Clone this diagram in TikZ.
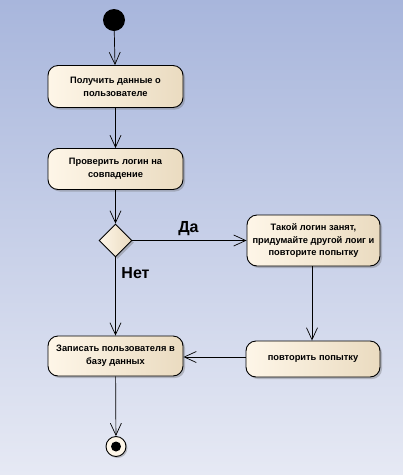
\documentclass[tikz,border=0pt]{standalone}
\usepackage{fontspec}
\setmainfont{Liberation Sans}
\usetikzlibrary{arrows.meta,shapes.geometric,shadows}
\begin{document}
\begin{tikzpicture}[x=1pt,y=-1pt,
  act/.style={draw=black,line width=0.9pt,rounded corners=10pt,
    left color=boxL,right color=boxR,
    drop shadow={shadow xshift=2pt,shadow yshift=-2pt,opacity=0.35,fill=black!60},
    minimum width=135pt,align=center,
    font=\fontsize{9.3}{12.7}\selectfont\bfseries,inner sep=1pt},
  flow/.style={draw=black,line width=0.7pt,-{Straight Barb[length=12pt,width=11pt,line width=0.7pt]}},
  lbl/.style={font=\fontsize{16}{18}\selectfont\bfseries,inner sep=0pt}
]
\definecolor{bgtop}{HTML}{A8B6DC}
\definecolor{bgbot}{HTML}{E6E9F4}
\definecolor{boxL}{HTML}{FEF6E8}
\definecolor{boxR}{HTML}{EADBC0}
\fill[top color=bgtop,bottom color=bgbot] (0,0) rectangle (403,475);
\useasboundingbox (0,0) rectangle (403,475);

\node[circle,fill=black,minimum size=22pt,inner sep=0pt] (start) at (114,20) {};
\node[act,minimum height=42pt] (a1) at (115.5,86.5) {Получить данные о\\пользователе};
\node[act,minimum height=41pt] (a2) at (115.5,169) {Проверить логин на\\совпадение};
\node[diamond,draw=black,line width=0.9pt,left color=boxL,right color=boxR,
  minimum width=33pt,minimum height=33pt,inner sep=0pt,
  drop shadow={shadow xshift=2pt,shadow yshift=-2pt,opacity=0.35,fill=black!60}] (d) at (115.5,240.5) {};
\node[act,minimum width=133pt,minimum height=51pt] (a3) at (313.5,240.5) {Такой логин занят,\\придумайте другой лоиг и\\повторите попытку};
\node[act,minimum height=40pt] (a4) at (115.5,356) {Записать пользователя в\\базу данных};
\node[act,minimum width=134pt,minimum height=36pt] (a5) at (313,359) {\raisebox{3pt}{повторить попытку}};
\node[circle,draw=black,line width=0.9pt,fill=boxL,minimum size=20pt,inner sep=0pt,
  drop shadow={shadow xshift=1.5pt,shadow yshift=-1.5pt,opacity=0.35,fill=black!60}] (end) at (116,446.5) {};
\node[circle,fill=black,minimum size=10pt,inner sep=0pt] (endin) at (end) {};

\draw[flow] (start) -- (a1);
\draw[flow] (a1) -- (a2);
\draw[flow] (a2) -- (d);
\draw[flow] (d) -- (a3);
\node[lbl] (da) at (188.5,229) {Да};
\draw[flow] (d) -- (a4);
\node[lbl] (net) at (135.5,273.5) {Нет};
\draw[flow] (a3.south -| 312,0) -- (a5.north -| 312,0);
\draw[flow] (a5.west |- 0,357) -- (a4.east |- 0,357);
\draw[flow] (a4) -- (end);
\end{tikzpicture}
\end{document}
